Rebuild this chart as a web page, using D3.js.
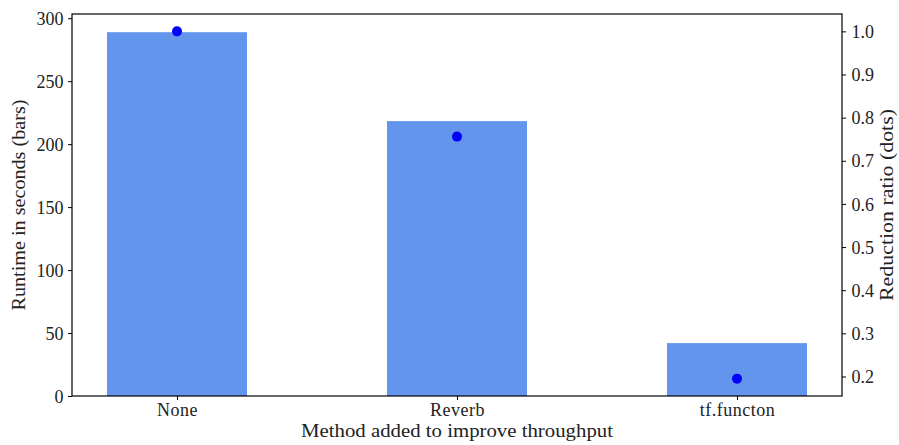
<!DOCTYPE html>
<html>
<head>
<meta charset="utf-8">
<script src="https://cdn.jsdelivr.net/npm/d3@7"></script>
<style>
  body { margin: 0; background: #fff; }
  .axis path, .axis line { stroke: #000; }
</style>
</head>
<body>
<svg width="899" height="445"></svg>
<script>
const methods = ['None', 'Reverb', 'tf.functon'];
const runtimes = [288.9, 218.3, 42.0];
const ratios = [1.0, 0.756, 0.195];
const leftTicks = [0, 50, 100, 150, 200, 250, 300];
const rightTicks = [0.2, 0.3, 0.4, 0.5, 0.6, 0.7, 0.8, 0.9, 1.0];

const svg = d3.select('svg');
const margin = { top: 14, right: 57, bottom: 49, left: 72 };
const width = 899 - margin.left - margin.right;
const height = 445 - margin.top - margin.bottom;
const fontSize = 18;
const g = svg.append('g').attr('transform', `translate(${margin.left},${margin.top})`);

// Scales (matplotlib-like 5% margins)
const x = d3.scaleLinear().domain([-0.375, 2.375]).range([0, width]);
const yMax = d3.max(runtimes) * 1.05;
const y = d3.scaleLinear().domain([0, yMax]).range([height, 0]);
const rMin = d3.min(ratios), rMax = d3.max(ratios), rPad = (rMax - rMin) * 0.05;
const y2 = d3.scaleLinear().domain([rMin - rPad, rMax + rPad]).range([height, 0]);

// Bars
const barW = x(0.5) - x(0);
g.selectAll('.bar')
    .data(runtimes)
    .enter().append('rect')
    .attr('class', 'bar')
    .attr('x', (d, i) => x(i) - barW / 2)
    .attr('y', d => y(d))
    .attr('width', barW)
    .attr('height', d => height - y(d))
    .attr('fill', '#6495ED');

// Dots
g.selectAll('.dot')
    .data(ratios)
    .enter().append('circle')
    .attr('class', 'dot')
    .attr('cx', (d, i) => x(i))
    .attr('cy', d => y2(d))
    .attr('r', 5)
    .attr('fill', '#0000FF');

// Frame
g.append('rect')
    .attr('width', width).attr('height', height)
    .attr('fill', 'none').attr('stroke', '#000').attr('stroke-width', 1.2);

// Axes
const xAxis = g.append('g')
    .attr('class', 'axis')
    .attr('transform', `translate(0,${height})`)
    .call(d3.axisBottom(x).tickValues([0, 1, 2]).tickFormat(i => methods[i]).tickSize(4).tickPadding(4));
const yAxis = g.append('g')
    .attr('class', 'axis')
    .call(d3.axisLeft(y).tickValues(leftTicks).tickSize(4).tickPadding(4.5));
const y2Axis = g.append('g')
    .attr('class', 'axis')
    .attr('transform', `translate(${width},0)`)
    .call(d3.axisRight(y2).tickValues(rightTicks).tickFormat(d3.format('.1f')).tickSize(4).tickPadding(5.5));

[xAxis, yAxis, y2Axis].forEach(a => a.select('.domain').remove());
xAxis.selectAll('text').attr('dy', null).attr('y', 20).style('letter-spacing', '0.5px');
yAxis.selectAll('text').attr('dy', '0.34em');
y2Axis.selectAll('text').attr('dy', '0.34em');

// Axis labels (stretched to the widths of the original serif face)
svg.append('text')
    .attr('x', margin.left + width / 2)
    .attr('y', 437)
    .attr('text-anchor', 'middle')
    .attr('textLength', 312)
    .attr('lengthAdjust', 'spacingAndGlyphs')
    .text('Method added to improve throughput');
svg.append('text')
    .attr('transform', `translate(25,${margin.top + height / 2}) rotate(-90)`)
    .attr('text-anchor', 'middle')
    .attr('textLength', 211)
    .attr('lengthAdjust', 'spacingAndGlyphs')
    .text('Runtime in seconds (bars)');
svg.append('text')
    .attr('transform', `translate(893,${margin.top + height / 2}) rotate(-90)`)
    .attr('text-anchor', 'middle')
    .attr('textLength', 192)
    .attr('lengthAdjust', 'spacingAndGlyphs')
    .text('Reduction ratio (dots)');

svg.selectAll('text')
    .style('font-family', "'Liberation Serif', 'Times New Roman', serif")
    .style('font-size', fontSize + 'px')
    .style('fill', '#222');
</script>
</body>
</html>
